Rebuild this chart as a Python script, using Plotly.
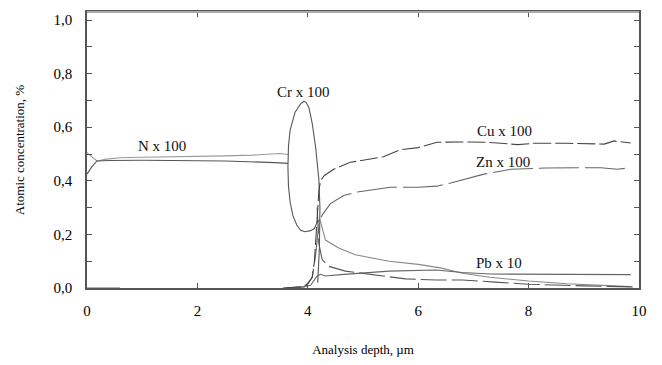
import plotly.graph_objects as go

# ---- data ----
n1_x = [0, 0.08, 0.18, 0.35, 0.6, 1.0, 1.5, 2.0, 2.5, 3.0, 3.3, 3.5, 3.64]
n1_y = [0.505, 0.49, 0.474, 0.481, 0.486, 0.488, 0.489, 0.491, 0.493, 0.496, 0.498, 0.502, 0.498]

n2_x = [0, 0.08, 0.18, 0.4, 1.0, 1.5, 2.0, 2.5, 3.0, 3.4, 3.64]
n2_y = [0.425, 0.45, 0.474, 0.476, 0.477, 0.477, 0.475, 0.474, 0.472, 0.468, 0.465]

cr_x = [4.18, 4.21, 4.22, 4.2, 4.14, 4.08, 4.02, 3.97, 3.93, 3.87, 3.77, 3.68, 3.65, 3.64,
        3.65, 3.68, 3.73, 3.8, 3.87, 3.95, 4.05, 4.12, 4.17, 4.22]
cr_y = [0.02, 0.15, 0.3, 0.406, 0.528, 0.614, 0.674, 0.692, 0.697, 0.687, 0.656, 0.589, 0.53, 0.45,
        0.38, 0.32, 0.27, 0.235, 0.215, 0.21, 0.214, 0.222, 0.245, 0.255]

tail1_x = [4.22, 4.32, 4.56, 4.86, 5.47, 6.0, 6.4, 6.8, 7.3, 8.0, 8.7, 9.3, 9.85]
tail1_y = [0.255, 0.179, 0.149, 0.124, 0.1, 0.088, 0.075, 0.055, 0.04, 0.026, 0.016, 0.009, 0.005]

tail2_x = [4.17, 4.2, 4.26, 4.38, 4.68, 5.17, 5.77, 6.32, 6.8, 7.4, 8.0, 9.0, 9.9]
tail2_y = [0.3, 0.167, 0.106, 0.081, 0.063, 0.051, 0.034, 0.03, 0.03, 0.022, 0.014, 0.008, 0.004]

pb_x = [0, 0.6, 0.61, 3.6, 3.9, 4.05, 4.12, 4.17, 4.23, 4.32, 4.6, 4.86, 5.47, 6.32, 6.8, 7.3, 8.0, 9.0, 9.85]
pb_y = [0, 0, None, 0, 0.003, 0.01, 0.03, 0.045, 0.051, 0.045, 0.05, 0.054, 0.063, 0.067, 0.058, 0.052, 0.051, 0.051, 0.05]

cu_x = [3.55, 3.9, 4.0, 4.08, 4.12, 4.15, 4.18, 4.2, 4.23, 4.3, 4.47, 4.77, 5.37, 5.68, 6.0, 6.34,
        6.8, 7.19, 7.5, 7.8, 8.1, 8.7, 9.37, 9.55, 9.85]
cu_y = [0.0, 0.005, 0.015, 0.04, 0.1, 0.2, 0.3, 0.36, 0.4, 0.42, 0.443, 0.469, 0.49, 0.516, 0.524, 0.544,
        0.545, 0.544, 0.54, 0.535, 0.54, 0.54, 0.537, 0.549, 0.541]

zn_x = [3.6, 3.95, 4.08, 4.14, 4.18, 4.22, 4.26, 4.41, 4.65, 4.89, 5.5, 5.99, 6.34, 6.59, 7.19, 7.68,
        8.3, 8.95, 9.31, 9.61, 9.85]
zn_y = [0, 0.005, 0.04, 0.12, 0.2, 0.25, 0.272, 0.315, 0.345, 0.358, 0.376, 0.376, 0.38, 0.392, 0.425, 0.443,
        0.448, 0.449, 0.449, 0.443, 0.449]

labels = ["N x 100", "Cr x 100", "Cu x 100", "Zn x 100", "Pb x 10"]
label_x = [1.35, 3.93, 7.56, 7.54, 7.47]
label_y = [0.53, 0.73, 0.586, 0.47, 0.094]

x_ticks = [0, 2, 4, 6, 8, 10]
y_ticks = [0.0, 0.2, 0.4, 0.6, 0.8, 1.0]

FONT = '"Liberation Serif", "Times New Roman", Times, serif'

fig = go.Figure()

def add(x, y, color, dash="solid", width=1.1):
    fig.add_trace(go.Scatter(x=x, y=y, mode="lines", showlegend=False, hoverinfo="skip",
                             line=dict(color=color, width=width, dash=dash)))

add(n1_x, n1_y, "#9a9a9a")
add(n2_x, n2_y, "#555555")
add(cr_x, cr_y, "#555555")
add(tail1_x, tail1_y, "#888888")
add(tail2_x, tail2_y, "#555555", dash="26px,5px")
add(pb_x, pb_y, "#666666")
add(zn_x, zn_y, "#666666", dash="40px,6px")
add(cu_x, cu_y, "#444444", dash="18px,4px")

for t, x, y in zip(labels, label_x, label_y):
    fig.add_annotation(x=x, y=y, text=t, showarrow=False,
                       font=dict(family=FONT, size=15, color="#111111"))

# the page body has an 8px margin, so the figure is sized/offset to compensate
fig.update_layout(
    width=646, height=349,
    margin=dict(l=79, r=15, t=2, b=66),
    paper_bgcolor="white", plot_bgcolor="white",
    separators=", ",
    font=dict(family=FONT, size=15, color="black"),
    showlegend=False,
)

fig.update_xaxes(
    range=[0, 10], tickvals=x_ticks, tickformat="d",
    showgrid=False, zeroline=False,
    showline=True, linecolor="#555555", linewidth=1.5, mirror="ticks",
    ticks="inside", ticklen=5, tickcolor="#555555", ticklabelstandoff=8,
    tickfont=dict(family=FONT, size=15, color="black"),
    title=dict(text="Analysis depth, \u00b5m", font=dict(family=FONT, size=13, color="black"), standoff=27),
)
fig.update_yaxes(
    range=[0, 1.03], tickvals=y_ticks, tickformat=".1f",
    showgrid=False, zeroline=False,
    showline=True, linecolor="#555555", linewidth=1.5, mirror="ticks",
    ticks="inside", ticklen=5, tickcolor="#555555", ticklabelstandoff=10,
    minor=dict(dtick=0.1, ticks="inside", ticklen=5, tickcolor="#555555", showgrid=False),
    tickfont=dict(family=FONT, size=15, color="black"),
    title=dict(text="Atomic concentration, %", font=dict(family=FONT, size=13, color="black"), standoff=26),
)

# lighter top border as in the reference
fig.add_shape(type="line", xref="paper", yref="paper", x0=0, x1=1, y0=1, y1=1,
              line=dict(color="#aaaaaa", width=2))

fig.write_html("out.html")
